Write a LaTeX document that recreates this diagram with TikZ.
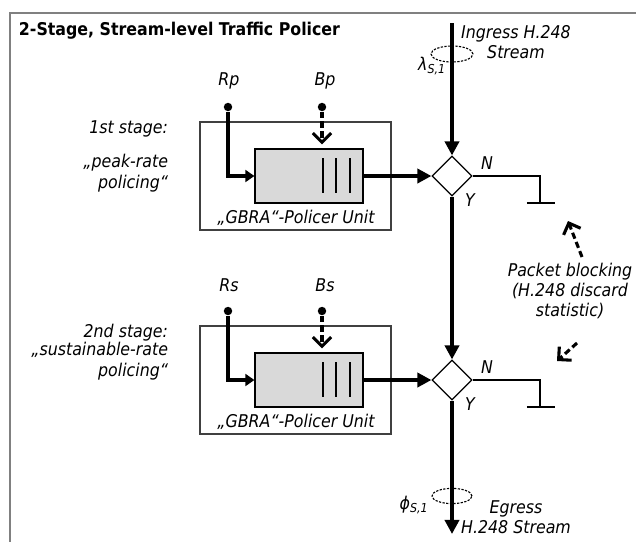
\documentclass[tikz,border=0pt]{standalone}
\usepackage{fontspec}
\setmainfont{DejaVu Sans Condensed}
\usetikzlibrary{shapes.geometric,arrows.meta}
\newcommand{\figfont}{\fontsize{12.5pt}{14.5pt}\selectfont}
\tikzset{
  policerbox/.style={
    draw=black!75,
    line width=0.8pt,
    minimum width=4.775cm,
    minimum height=2.7cm,
    inner sep=0
  },
  bucketbox/.style={
    draw,
    fill=black!15,
    line width=0.8pt,
    minimum width=2.7cm,
    minimum height=1.35cm,
    inner sep=0
  },
  decision/.style={
    shape=diamond,
    draw,
    fill=white,
    line width=0.8pt,
    minimum width=1cm,
    minimum height=1cm,
    inner sep=0
  },
  tap/.style={
    shape=circle,
    fill,
    inner sep=0,
    minimum size=6pt
  },
  flow/.style={line width=2.6pt, -{Triangle[length=10pt,width=10pt]}},
  ratearrow/.style={line width=2.4pt, -{Triangle[length=6.5pt,width=8.5pt]}},
  burstarrow/.style={line width=2.2pt, dash pattern=on 4.5pt off 2.5pt,
    -{Straight Barb[length=6.5pt,width=13pt]}},
  ring/.style={line width=0.8pt, dash pattern=on 1.6pt off 1pt}
}

\begin{document}
\begin{tikzpicture}[x=0.025cm, y=-0.025cm, font=\figfont\itshape]
  \useasboundingbox (0,0) rectangle (636,541);
  \clip (0,0) rectangle (636,541);
  \draw[black!50, line width=0.9pt] (10,13) rectangle (680,580);
  \node[anchor=west, font=\figfont\bfseries] (title) at (14,31) {2-Stage, Stream-level Traffic Policer};

  % the two policer stages
  \foreach \s/\dy/\r/\b/\st/\desc/\ddy in {1/0/Rp/Bp/1st/{„peak-rate\\policing“}/173,
      2/204/Rs/Bs/2nd/{„sustainable-rate\\policing“}/361}{
    \node[policerbox] (unit\s) at (295.5,{176+\dy}) {};
    \node[bucketbox] (bucket\s) at (309,{176+\dy}) {};
    \foreach \q in {323,336,350}
      \draw[line width=0.8pt] (\q,{158+\dy}) -- (\q,{193+\dy});
    \node (lbl\s) at (296,{218+\dy}) {„GBRA“-Policer Unit};
    \node[decision] (d\s) at (452,{176+\dy}) {};
    \node (rate\s) at (229,{81+\dy}) {\r};
    \node (burst\s) at (325,{81+\dy}) {\b};
    \node[tap] (rtap\s) at (228,{107+\dy}) {};
    \node[tap] (btap\s) at (322,{107+\dy}) {};
    \draw[ratearrow] (rtap\s) |- (bucket\s.west);
    \draw[burstarrow] (btap\s) -- ([yshift=0.1cm]btap\s |- bucket\s.north);
    \draw[flow] (bucket\s) -- (d\s);
    \node[anchor=east] (stage\s) at (173,{129+\dy}) {\st\ stage:};
    \node[anchor=east, align=right] (desc\s) at (173,\ddy) {\desc};
    \node (no\s) at (487,{163+\dy}) {N};
    \node (yes\s) at (470,{200+\dy}) {Y};
    \coordinate (gnd\s) at (540,{203+\dy});
    \draw[line width=1.6pt] (d\s.east) -| (gnd\s);
    \draw[line width=1.6pt] ([xshift=-0.33cm]gnd\s) -- ([xshift=0.38cm]gnd\s);
  }

  % ingress / egress stream
  \coordinate (in) at (452,23);
  \coordinate (out) at (452,534);
  \draw[ring] (452,54) ellipse [x radius=0.525cm, y radius=0.2cm];
  \draw[ring] (452,496) ellipse [x radius=0.5cm, y radius=0.19cm];
  \draw[flow] (in) -- (d1);
  \draw[flow] (d1) -- (d2);
  \draw[flow] (d2) -- (out);
  \node (lambda) at (432,66) {λ\textsubscript{S,1}};
  \node (phi) at (414,505) {ϕ\textsubscript{S,1}};
  \node[align=center] (ingress) at (516,42) {Ingress H.248\\Stream};
  \node[align=center] (egress) at (516,517) {Egress\\H.248 Stream};

  % discard statistic
  \node[align=center] (blocking) at (570,291) {Packet blocking\\(H.248 discard\\statistic)};
  \coordinate (blk1) at (582,257);
  \coordinate (blk2) at (577,343);
  \draw[burstarrow] (blk1) -- (568,221);
  \draw[burstarrow] (blk2) -- (557,361);
\end{tikzpicture}
\end{document}
